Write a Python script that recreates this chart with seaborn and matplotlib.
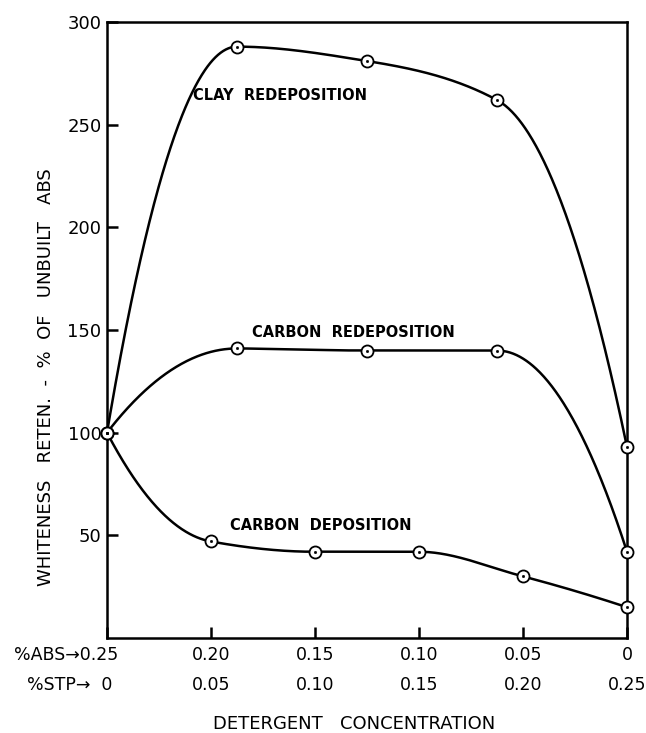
import numpy as np
import pandas as pd
import seaborn as sns
import matplotlib.pyplot as plt

# values
abs_pct = [0.25, 0.1875, 0.125, 0.0625, 0.0]
clay_redep = [100, 288, 281, 262, 93]
carbon_redep = [100, 141, 140, 140, 42]

abs_pct_dep = [0.25, 0.20, 0.15, 0.10, 0.05, 0.0]
carbon_dep = [100, 47, 42, 42, 30, 15]

tick_abs = ["0.25", "0.20", "0.15", "0.10", "0.05", "0"]
tick_stp = ["0", "0.05", "0.10", "0.15", "0.20", "0.25"]
tick_pos = [0.25, 0.20, 0.15, 0.10, 0.05, 0.0]
y_ticks = [50, 100, 150, 200, 250, 300]


def smooth_line(x, y, n=200):
    # monotone cubic through the points (only used to draw the hand-drawn look)
    order = np.argsort(x)
    x = np.asarray(x, float)[order]
    y = np.asarray(y, float)[order]
    h = np.diff(x)
    m = np.diff(y) / h
    d = np.zeros_like(y)
    for k in range(1, len(x) - 1):
        if m[k - 1] * m[k] > 0:
            w1 = 2 * h[k] + h[k - 1]
            w2 = h[k] + 2 * h[k - 1]
            d[k] = (w1 + w2) / (w1 / m[k - 1] + w2 / m[k])

    def edge(m0, d_nb):
        e = 2 * m0 - d_nb
        lo, hi = sorted([m0, 3 * m0])
        return float(np.clip(e, lo, hi))

    d[0] = edge(m[0], d[1])
    d[-1] = edge(m[-1], d[-2])
    xs, ys = [], []
    for k in range(len(h)):
        t = np.linspace(0, 1, n)
        h00 = 2 * t**3 - 3 * t**2 + 1
        h10 = t**3 - 2 * t**2 + t
        h01 = -2 * t**3 + 3 * t**2
        h11 = t**3 - t**2
        xs.append(x[k] + t * h[k])
        ys.append(h00 * y[k] + h10 * h[k] * d[k] + h01 * y[k + 1] + h11 * h[k] * d[k + 1])
    return np.concatenate(xs), np.concatenate(ys)


sns.set_style("ticks")
plt.rcParams['font.family'] = ['DejaVu Sans']
plt.rcParams.update({"text.color": "black", "xtick.color": "black",
                     "ytick.color": "black", "axes.labelcolor": "black"})

fig = plt.figure(figsize=(6.46, 7.33), dpi=100)
ax = fig.add_axes([107 / 646, 1 - 638 / 733, 520 / 646, 616 / 733])

series = [(abs_pct, clay_redep), (abs_pct, carbon_redep), (abs_pct_dep, carbon_dep)]
for xs, ys in series:
    cx, cy = smooth_line(xs, ys)
    curve = pd.DataFrame({"x": cx, "y": cy})
    sns.lineplot(data=curve, x="x", y="y", color="black", lw=1.8, sort=False,
                 estimator=None, ax=ax, zorder=2)
    pts = pd.DataFrame({"x": xs, "y": ys})
    sns.scatterplot(data=pts, x="x", y="y", marker="o", s=75, facecolor="white",
                    edgecolor="black", linewidth=1.3, ax=ax, zorder=3, clip_on=False)
    sns.scatterplot(data=pts, x="x", y="y", marker="o", s=4, color="black",
                    edgecolor="black", ax=ax, zorder=4, clip_on=False)

ax.set_xlim(0.25, 0.0)
ax.set_ylim(0, 300)
ax.set_yticks(y_ticks)
ax.set_yticklabels([str(v) for v in y_ticks], fontsize=13)
ax.set_xticks(tick_pos)
ax.set_xticklabels([])
ax.tick_params(axis="both", direction="in", length=8, width=1.8, color="black")
ax.tick_params(axis="y", pad=4)
for sp in ax.spines.values():
    sp.set_visible(True)
    sp.set_linewidth(1.8)
    sp.set_color("black")
ax.set_xlabel("")
ax.set_ylabel("")

# two rows of concentration labels
for i, (p, a, s) in enumerate(zip(tick_pos, tick_abs, tick_stp)):
    if i == 0:
        ax.annotate("%ABS\u21920.25", xy=(p, 0), xycoords=("data", "axes fraction"),
                    xytext=(8, -12), textcoords="offset points", ha="right", va="center", fontsize=12.5)
        ax.annotate("%STP\u2192  0", xy=(p, 0), xycoords=("data", "axes fraction"),
                    xytext=(4, -34), textcoords="offset points", ha="right", va="center", fontsize=12.5)
    else:
        ax.annotate(a, xy=(p, 0), xycoords=("data", "axes fraction"),
                    xytext=(0, -12), textcoords="offset points", ha="center", va="center", fontsize=12.5)
        ax.annotate(s, xy=(p, 0), xycoords=("data", "axes fraction"),
                    xytext=(0, -34), textcoords="offset points", ha="center", va="center", fontsize=12.5)

ax.text(0.2087, 264, "CLAY  REDEPOSITION", fontsize=10.5, fontweight="bold", ha="left", va="center")
ax.text(0.1803, 149, "CARBON  REDEPOSITION", fontsize=10.5, fontweight="bold", ha="left", va="center")
ax.text(0.1909, 55, "CARBON  DEPOSITION", fontsize=10.5, fontweight="bold", ha="left", va="center")

fig.text(46 / 646, 1 - 377 / 733, "WHITENESS   RETEN.  -  %  OF   UNBUILT   ABS",
         rotation=90, ha="center", va="center", fontsize=13)
fig.text(354 / 646, 1 - 724 / 733, "DETERGENT   CONCENTRATION",
         ha="center", va="center", fontsize=13)

fig.savefig("out.png", dpi=100)
